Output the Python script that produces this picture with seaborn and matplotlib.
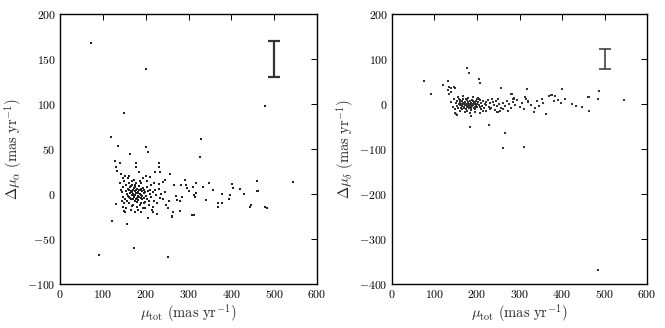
import matplotlib
matplotlib.use("Agg")
import matplotlib.pyplot as plt
import seaborn as sns
import pandas as pd

# ---- data: left panel (delta mu_alpha vs mu_tot) ----
mu_tot_a = [72, 201, 150, 479, 118, 136, 201, 205, 330, 326, 164,
            129, 140, 131, 133, 178, 178, 185, 230, 231, 233, 222, 257, 244, 240, 232, 201, 209,
            291, 295, 282, 265, 317, 310, 296, 349, 333, 358, 402, 404, 421, 430, 459, 460, 462,
            543, 397, 395, 379, 370, 379, 369, 340, 318, 316, 313, 446, 444, 478, 483, 308, 312,
            279, 274, 280, 122, 157, 150, 151, 130, 92, 173, 253, 205, 226, 218, 262, 263, 251,
            254, 270, 285, 300, 262,
            140, 142, 145, 147, 148, 150, 152, 153, 155, 156, 157, 158, 159, 160, 161, 162, 163,
            164, 165, 166, 167, 168, 169, 170, 170, 171, 172, 173, 174, 175, 176, 176, 177, 178,
            179, 180, 181, 182, 183, 184, 185, 186, 187, 188, 189, 190, 191, 192, 193, 194, 195,
            196, 197, 198, 199, 200, 202, 204, 205, 207, 209, 211, 213, 215, 217, 219, 221, 224,
            227, 230, 233, 236, 240, 244, 248,
            150, 155, 158, 162, 165, 168, 172, 175, 178, 182, 186, 190, 194, 198, 203, 208, 212,
            216, 220, 160, 165, 170, 175, 180, 185, 190, 195, 173, 177, 183, 188, 163, 168, 180,
            186, 192, 145, 148, 152, 143, 146]
dmu_alpha = [168, 139, 90, 98, 63, 53, 52, 47, 61, 41, 44,
             37, 34, 30, 26, 35, 30, 24, 35, 30, 25, 24, 22, 16, 13, 11, 20, 19,
             16, 10, 10, 10, 12, 8, 7, 12, 8, 4, 11.5, 7, 6, 0.5, 14, 3, 3,
             13, -1, -6, -0.5, -9.5, -9.5, -14, -7, 1, -3, -1, -12, -14, -14, -15, -23, -23.5,
             -8, -7, -19, -30.5, -33, -19, -20, -11, -67.5, -60.5, -70.5, -27, -22, -20, -24, -20, -15,
             -8, -2, -3, 3, -26,
             12, 5, 2, -3, 8, 15, -5, 3, 10, -8, 0, 6, -2, 12, -10, 4, -4,
             1, 9, -6, 2, -1, 14, -12, 5, 0, -3, 7, -8, 3, -1, 10, -5, 1,
             -14, 6, -2, 2, -7, 9, -3, 0, 4, -10, 12, -1, 3, -6, 7, -15, 1,
             -4, 5, -9, 2, -2, 8, -6, 3, -12, 0, 5, -3, -18, 2, -8, 4, -1,
             -10, 6, -4, 0, -6, 2, -12,
             -10, -15, 18, 20, -18, -13, 16, -20, 12, -18, 14, -20, 18, -16, 14, -8, 10,
             -14, 12, -3, 3, -6, 8, -9, 5, 6, -10, -2, 4, 1, -4, 8, 10, -4,
             -12, -2, -8, -14, 20, 22, 18]

# ---- data: right panel (delta mu_delta vs mu_tot) ----
mu_tot_d = [74.5, 92.5, 176, 182, 204, 208, 256, 318, 314, 401, 488, 484, 462, 464, 374, 383,
            380, 407, 398, 353, 546, 423, 432, 448, 463, 362, 336, 334, 184, 229, 265, 260, 311,
            485, 121, 132, 132, 135, 138, 140, 133, 146, 148, 281, 283, 284, 287, 316, 320, 369,
            376, 390, 186, 150, 152, 148, 254, 242, 250,
            150, 152, 154, 155, 157, 158, 160, 161, 162, 163, 164, 165, 166, 167, 168, 169, 170,
            171, 172, 173, 174, 175, 176, 177, 178, 179, 180, 181, 182, 183, 184, 185, 186, 187,
            188, 189, 190, 191, 192, 193, 194, 195, 196, 197, 198, 199, 200, 202, 204, 206, 208,
            210, 212, 214, 216, 218, 220, 222, 225, 228, 231, 234, 237, 240, 244, 248, 252, 256,
            260, 265, 270, 275, 280, 285, 290, 295, 300, 305, 310, 320, 326, 340, 346, 355,
            145, 148, 156, 160, 166, 172, 178, 184, 190, 196, 202, 208, 214, 160, 170, 180, 190,
            175, 185, 195, 205, 165, 200, 210, 220, 176, 140, 143, 230, 235, 250, 262, 272, 288,
            246]
dmu_delta = [52, 22, 81, 68, 56, 47, 35, 33, 16, 33, 29, 10, 16, 15, 21, 18,
             7, 10, 3, 12, 8, 0, -4.5, -7, -16, -22, -10, -18, -51, -47, -64, -97, -95,
             -368, 42, 52, 30, 22, 36, 26, 37, 37, 36, 23, 22, 12, 14, 10, 6, 18,
             20, 8, -27, -22, -25, -20, -16, -14, -17,
             2, -4, 6, -8, 1, 10, -2, 4, -10, 0, 7, -5, 2, -1, 12, -7, 3,
             -3, 5, -12, 1, -2, 8, -6, 2, -1, 4, -9, 0, 6, -4, 2, -14, -1,
             9, -5, 1, -2, 5, -8, 0, 3, -11, 7, -3, 1, -6, 4, -2, 9, -7,
             2, -4, 6, -10, 0, 5, -3, 8, -6, 2, -9, 4, -2, 6, -5, 1, -8,
             3, -4, 6, -1, -10, 4, -3, 9, -6, 2, -12, 5, -3, 7, -5, 3,
             12, -12, 15, -16, 18, -18, 14, -20, 16, -18, 14, -20, -16, 8, -9, -5, 7,
             10, -8, -6, 10, -12, 12, -12, -15, -15, 5, -6, -12, 12, 10, -12, -15, 12,
             -18]

# error bars shown in the upper right of each panel
err_x = [500, 500]
err_y = [150, 100]
err_half = [20.5, 22]
err_width = [1.6, 1.1]

sns.set_style("white")
plt.rcParams["font.family"] = "serif"
plt.rcParams["font.serif"] = ["cmr10", "DejaVu Serif"]
plt.rcParams["mathtext.fontset"] = "cm"
plt.rcParams["axes.formatter.use_mathtext"] = True

fig = plt.figure(figsize=(6.65, 3.28), dpi=100)
axL = fig.add_axes([60 / 665, 44 / 328, 257 / 665, 270 / 328])
axR = fig.add_axes([392 / 665, 44 / 328, 255 / 665, 270 / 328])

dfa = pd.DataFrame({"mu_tot": mu_tot_a, "dmu": dmu_alpha})
dfd = pd.DataFrame({"mu_tot": mu_tot_d, "dmu": dmu_delta})

sns.scatterplot(data=dfa, x="mu_tot", y="dmu", ax=axL, s=1.1, color="#222222",
                linewidth=0, marker="s", legend=False)
sns.scatterplot(data=dfd, x="mu_tot", y="dmu", ax=axR, s=1.0, color="#333333",
                linewidth=0, marker="s", legend=False)

for ax, ex, ey, eh, ew in zip([axL, axR], err_x, err_y, err_half, err_width):
    ax.errorbar([ex], [ey], yerr=[eh], fmt="none", ecolor="#333333",
                elinewidth=ew, capsize=4, capthick=ew)

axL.set_xlim(0, 600)
axL.set_ylim(-100, 200)
axL.set_xticks(range(0, 601, 100))
axL.set_yticks(range(-100, 201, 50))
axR.set_xlim(0, 600)
axR.set_ylim(-400, 200)
axR.set_xticks(range(0, 601, 100))
axR.set_yticks(range(-400, 201, 100))

axL.set_xlabel(r"$\mu_{\rm tot}\ (\rm mas\ yr^{-1})$", fontsize=10.5, labelpad=2)
axL.set_ylabel(r"$\Delta\mu_{\alpha}\ (\rm mas\ yr^{-1})$", fontsize=10.5, labelpad=2)
axR.set_xlabel(r"$\mu_{\rm tot}\ (\rm mas\ yr^{-1})$", fontsize=10.5, labelpad=2)
axR.set_ylabel(r"$\Delta\mu_{\delta}\ (\rm mas\ yr^{-1})$", fontsize=10.5, labelpad=2)

for ax in (axL, axR):
    ax.tick_params(direction="in", top=True, right=True, length=4, width=0.7,
                   labelsize=8.5, pad=3, colors="black")
    for sp in ax.spines.values():
        sp.set_linewidth(1.0)
        sp.set_color("black")

fig.savefig("out.png", dpi=100)
